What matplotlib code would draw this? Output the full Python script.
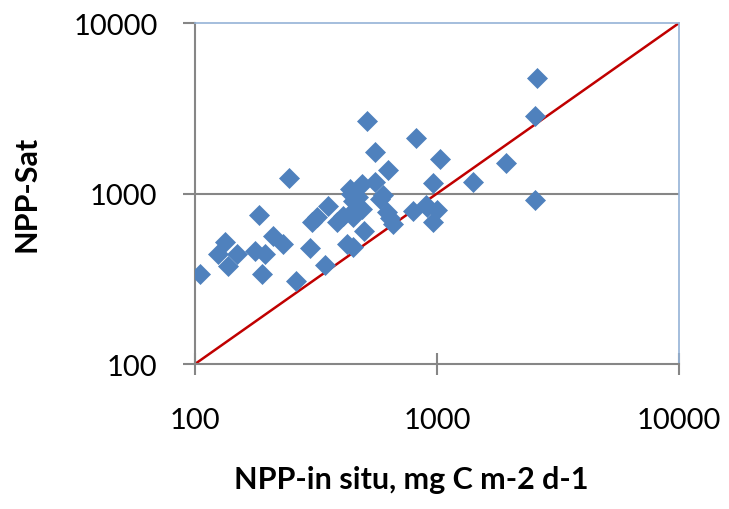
import matplotlib.pyplot as plt

# NPP values (mg C m-2 d-1)
npp_insitu = [2594, 2541, 512, 816, 554, 1026, 630, 1923, 1403, 960,
              244, 2541, 554, 489, 437, 184, 356, 451, 581, 793,
              906, 997, 960, 303, 318, 385, 410, 451, 489, 619,
              660, 501, 232, 211, 195, 177, 133, 125, 149, 137,
              300, 423, 451, 344, 105, 189, 261, 600, 640, 450,
              900, 440, 470]
npp_sat = [4740, 2858, 2661, 2122, 1759, 1592, 1380, 1510, 1164, 1154,
           1228, 920, 1164, 1137, 1062, 751, 850, 908, 929, 793,
           830, 800, 677, 677, 725, 677, 741, 725, 811, 776,
           662, 605, 506, 566, 442, 462, 517, 442, 442, 377,
           477, 506, 483, 381, 337, 337, 308, 980, 720, 790,
           860, 1000, 960]
one_to_one = [100, 10000]

fig = plt.figure(figsize=(7.29, 5.10), dpi=100)
ax = fig.add_axes([0.2675, 0.2843, 0.664, 0.6686])

ax.plot(one_to_one, one_to_one, color="#C00000", lw=1.8, zorder=2)
ax.plot(npp_insitu, npp_sat, ls="none", marker="D", ms=10.2,
        color="#4F81BD", mec="#4F81BD", mew=0.5, zorder=3)

ax.set_xscale("log")
ax.set_yscale("log")
ax.set_xlim(100, 10000)
ax.set_ylim(100, 10000)
ax.minorticks_off()
ax.set_xticks([100, 1000, 10000], ["100", "1000", "10000"])
ax.set_yticks([100, 1000, 10000], ["100", "1000", "10000"])

ax.axhline(1000, color="#868686", lw=1.5, zorder=1)

for side in ["left", "bottom"]:
    ax.spines[side].set_color("#868686")
    ax.spines[side].set_linewidth(1.5)
for side in ["top", "right"]:
    ax.spines[side].set_color("#95B3D7")
    ax.spines[side].set_linewidth(1.2)

ax.tick_params(axis="x", direction="inout", length=16, width=1.5,
               color="#868686", pad=23, labelsize=21)
ax.tick_params(axis="y", direction="out", length=9, width=1.5,
               color="#868686", pad=18, labelsize=21)
for lab in ax.get_xticklabels() + ax.get_yticklabels():
    lab.set_family("Lato")

fig.text(0.564, 0.058, "NPP-in situ, mg C m-2 d-1", ha="center", va="center",
         fontsize=22, fontweight="bold", family="Lato")
fig.text(0.036, 0.62, "NPP-Sat", ha="center", va="center", rotation=90,
         fontsize=22, fontweight="bold", family="Lato")

fig.savefig("out.png", dpi=100)
